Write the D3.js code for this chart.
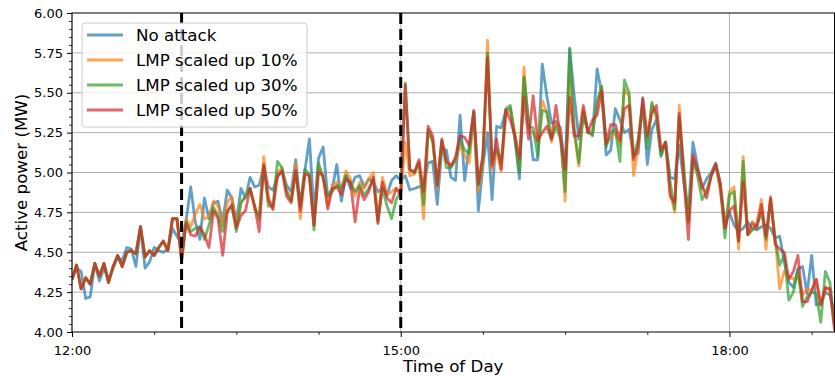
<!DOCTYPE html>
<html>
<head>
<meta charset="utf-8">
<script src="https://cdn.jsdelivr.net/npm/d3@7"></script>
<style>
  html, body { margin: 0; padding: 0; background: #fff; }
  svg { display: block; font-family: "DejaVu Sans", sans-serif; }
</style>
</head>
<body>
<svg id="chart" width="835" height="376"></svg>
<script>
// ---------------- DATA ----------------
// samples every 2.5 minutes starting at 12:00
const startTime = "12:00";
const stepMinutes = 2.5;
const attackStart = "13:00";
const marketChange = "15:00";

const seriesNames = ["No attack", "LMP scaled up 10%", "LMP scaled up 30%", "LMP scaled up 50%"];

// shared values of the attacked cases before the attack starts (12:00 - 13:00)
const attackPre = [4.33, 4.42, 4.27, 4.34, 4.30, 4.43, 4.35, 4.43, 4.31, 4.41,
  4.48, 4.41, 4.50, 4.51, 4.49, 4.66, 4.47, 4.51, 4.48, 4.53,
  4.57, 4.51, 4.71, 4.71, 4.45];

const noAttack = [
  4.33, 4.40, 4.38, 4.21, 4.22, 4.43, 4.32, 4.40, 4.33, 4.40, 4.47, 4.45, 4.53, 4.52, 4.41, 4.66, 4.40, 4.44, 4.53, 4.51, 4.50, 4.52, 4.65, 4.60, 4.55,
  4.70, 4.91, 4.69, 4.58, 4.84, 4.71, 4.81, 4.82, 4.69, 4.89, 4.84, 4.69, 4.90, 4.84, 4.97, 4.91, 4.92, 5.04, 4.91, 4.89, 4.97, 5.01, 4.92, 4.88,
  5.08, 4.79, 5.01, 5.21, 4.75, 5.09, 5.16, 4.85, 4.90, 5.05, 4.82, 4.98, 4.90, 4.97, 4.98, 4.91, 4.96, 4.94, 4.88, 4.90, 4.86, 4.95, 4.98, 4.95,
  4.98, 4.89, 4.90, 4.91, 4.92, 5.06, 5.07, 4.80, 5.15, 5.14, 4.97, 4.95, 5.36, 4.95, 5.17, 5.38, 4.76, 5.04, 5.25, 4.83, 5.29, 5.28, 5.39,
  5.40, 5.21, 4.96, 5.59, 5.33, 5.08, 5.08, 5.68, 5.48, 5.31, 5.32, 5.28, 5.02, 5.78, 5.48, 5.21, 5.34, 5.27, 5.23, 5.65, 5.50, 5.11, 5.14,
  5.40, 5.33, 5.25, 5.27, 5.11, 5.12, 5.46, 5.05, 5.27, 5.33, 5.11, 5.19, 4.97, 4.96, 5.17, 4.94, 4.75, 5.19, 5.04, 4.90, 4.96, 5.00, 5.06, 4.90,
  4.69, 4.75, 4.67, 4.63, 4.65, 4.69, 4.65, 4.64, 4.66, 4.67, 4.65, 4.59, 4.60, 4.44, 4.31, 4.28, 4.40, 4.41, 4.24, 4.48, 4.17, 4.18, 4.25, 4.23, 4.12
];

const lmp10 = attackPre.concat([
  4.71, 4.66, 4.74, 4.80, 4.71, 4.72, 4.82, 4.79, 4.67, 4.81, 4.85, 4.67, 4.81, 4.85, 4.90, 4.77, 4.73, 5.10, 4.85, 4.77, 5.00, 5.03, 4.89, 4.83,
  5.06, 4.71, 5.00, 4.98, 4.67, 5.04, 4.98, 4.79, 4.92, 4.94, 4.90, 5.01, 4.96, 4.85, 4.94, 4.90, 4.96, 5.00, 4.71, 4.97, 4.86, 4.88, 4.90, 4.87,
  5.19, 4.98, 4.99, 5.07, 4.71, 5.25, 5.21, 4.90, 5.19, 5.07, 5.05, 5.07, 5.17, 5.11, 5.06, 5.36, 4.88, 5.07, 5.83, 5.02, 5.13, 5.01, 5.36,
  5.40, 5.25, 5.04, 5.66, 5.27, 5.25, 5.19, 5.45, 5.38, 5.19, 5.31, 5.27, 4.82, 5.65, 5.25, 5.04, 5.40, 5.25, 5.24, 5.44, 5.54, 5.18, 5.22,
  5.25, 5.17, 5.52, 5.48, 4.98, 5.15, 5.42, 5.19, 5.43, 5.35, 5.14, 5.19, 4.88, 4.75, 5.42, 4.98, 4.69, 5.10, 5.00, 4.90, 4.88, 4.98, 5.05, 4.88,
  4.65, 4.88, 4.91, 4.52, 5.10, 4.61, 4.65, 4.69, 4.83, 4.52, 4.85, 4.59, 4.27, 4.38, 4.35, 4.33, 4.35, 4.23, 4.27, 4.26, 4.33, 4.17, 4.27, 4.27, 4.03
]);

const lmp30 = attackPre.concat([
  4.69, 4.63, 4.65, 4.66, 4.58, 4.67, 4.78, 4.73, 4.63, 4.76, 4.79, 4.63, 4.81, 4.85, 4.90, 4.79, 4.71, 5.04, 4.79, 4.79, 5.07, 5.03, 4.88, 4.82,
  5.01, 4.79, 5.02, 4.99, 4.64, 5.06, 4.96, 4.85, 4.88, 4.92, 4.90, 4.98, 4.93, 4.88, 4.92, 4.86, 4.90, 4.96, 4.69, 4.90, 4.79, 4.71, 4.83, 4.88,
  5.56, 5.02, 5.00, 5.06, 4.80, 5.27, 5.19, 4.92, 5.20, 5.03, 5.03, 5.08, 5.21, 5.14, 5.12, 5.38, 4.92, 5.10, 5.75, 5.06, 5.15, 5.06, 5.40,
  5.42, 5.21, 5.00, 5.60, 5.29, 5.28, 5.10, 5.39, 5.38, 5.21, 5.29, 5.21, 4.88, 5.77, 5.27, 5.06, 5.38, 5.25, 5.24, 5.44, 5.54, 5.16, 5.25,
  5.27, 5.07, 5.58, 5.50, 5.10, 5.21, 5.42, 5.15, 5.44, 5.35, 5.10, 5.19, 4.94, 4.77, 5.35, 5.04, 4.69, 5.08, 4.98, 4.83, 4.88, 4.98, 5.05, 4.92,
  4.59, 4.86, 4.88, 4.57, 5.07, 4.61, 4.64, 4.67, 4.75, 4.58, 4.83, 4.58, 4.42, 4.48, 4.20, 4.25, 4.39, 4.16, 4.22, 4.25, 4.24, 4.06, 4.38, 4.31, 4.05
]);

const lmp50 = attackPre.concat([
  4.68, 4.61, 4.60, 4.66, 4.61, 4.53, 4.76, 4.71, 4.48, 4.75, 4.80, 4.65, 4.73, 4.76, 4.90, 4.79, 4.63, 5.05, 4.83, 4.77, 4.98, 5.01, 4.85, 4.81,
  5.01, 4.76, 4.99, 4.98, 4.67, 5.00, 4.98, 4.77, 4.90, 4.91, 4.86, 4.96, 4.94, 4.69, 4.90, 4.83, 4.88, 4.97, 4.68, 4.94, 4.84, 4.81, 4.90, 4.86,
  5.55, 5.02, 5.00, 5.08, 4.88, 5.29, 5.23, 4.92, 5.21, 5.07, 5.04, 5.10, 5.23, 5.22, 5.17, 5.39, 4.93, 5.11, 5.72, 5.04, 5.21, 5.02, 5.39,
  5.33, 5.23, 5.09, 5.47, 5.21, 5.48, 5.20, 5.25, 5.29, 5.21, 5.42, 5.21, 5.02, 5.47, 5.23, 5.23, 5.42, 5.25, 5.33, 5.36, 5.51, 5.18, 5.30,
  5.30, 5.20, 5.40, 5.42, 5.08, 5.17, 5.47, 5.23, 5.37, 5.42, 5.14, 5.19, 4.85, 4.81, 5.37, 4.96, 4.58, 5.11, 5.02, 4.92, 4.84, 4.98, 5.05, 4.94,
  4.65, 4.76, 4.79, 4.57, 4.94, 4.61, 4.69, 4.65, 4.80, 4.60, 4.84, 4.55, 4.52, 4.50, 4.33, 4.38, 4.48, 4.19, 4.19, 4.26, 4.33, 4.17, 4.28, 4.27, 4.01
]);

const yTicks = [4.00, 4.25, 4.50, 4.75, 5.00, 5.25, 5.50, 5.75, 6.00];
const xTickLabels = ["12:00", "15:00", "18:00"];

// ---------------- CHART ----------------
const colors = ["#1f77b4", "#ff7f0e", "#2ca02c", "#d62728"];
const allSeries = [noAttack, lmp10, lmp30, lmp50];

const parseHM = s => { const [h, m] = s.split(":").map(Number); return new Date(2020, 0, 1, h, m, 0); };
const t0 = parseHM(startTime);
const n = noAttack.length;
const times = d3.range(n).map(i => new Date(t0.getTime() + i * stepMinutes * 60000));

const L = 72, R = 834.5, T = 13, B = 332;
const svg = d3.select("#chart");

const x = d3.scaleTime().domain([times[0], times[n - 1]]).range([L, R]);
const y = d3.scaleLinear().domain([4, 6]).range([B, T]);

// grid
const grid = svg.append("g");
grid.selectAll("line.hg").data(yTicks.slice(1, -1)).join("line")
  .attr("x1", L).attr("x2", R).attr("y1", d => y(d)).attr("y2", d => y(d))
  .attr("stroke", "#b0b0b0").attr("stroke-width", 1);
grid.selectAll("line.vg").data(xTickLabels.map(parseHM)).join("line")
  .attr("x1", d => x(d)).attr("x2", d => x(d)).attr("y1", T).attr("y2", B)
  .attr("stroke", "#b0b0b0").attr("stroke-width", 1);

// clip
svg.append("clipPath").attr("id", "clip").append("rect")
  .attr("x", L).attr("y", T).attr("width", R - L).attr("height", B - T);

const line = d3.line().x((d, i) => x(times[i])).y(d => y(d));
const lines = svg.append("g").attr("clip-path", "url(#clip)");
allSeries.forEach((s, k) => {
  lines.append("path").datum(s)
    .attr("d", line)
    .attr("fill", "none")
    .attr("stroke", colors[k])
    .attr("stroke-width", 2.8)
    .attr("stroke-opacity", 0.7)
    .attr("stroke-linejoin", "round");
});

// dashed event lines
svg.append("g").selectAll("line").data([attackStart, marketChange].map(parseHM)).join("line")
  .attr("x1", d => x(d)).attr("x2", d => x(d)).attr("y1", T).attr("y2", B)
  .attr("stroke", "#000").attr("stroke-width", 3).attr("stroke-dasharray", "11,5");

// axes
const fmt = d3.timeFormat("%H:%M");
const xAxis = d3.axisBottom(x).tickValues(xTickLabels.map(parseHM)).tickFormat(fmt)
  .tickSize(5).tickPadding(9);
const gx = svg.append("g").attr("transform", `translate(0,${B})`).call(xAxis);
gx.select(".domain").remove();
gx.selectAll("text").attr("font-size", 13).attr("font-family", "DejaVu Sans").attr("fill", "#000");
gx.selectAll("line").attr("stroke", "#000");

const minorX = times.filter((d, i) => i % 18 === 0 && i % 72 !== 0);
svg.append("g").attr("transform", `translate(0,${B})`)
  .call(d3.axisBottom(x).tickValues(minorX).tickSize(3).tickFormat(""))
  .call(g => g.select(".domain").remove())
  .selectAll("line").attr("stroke", "#000").attr("stroke-width", 0.8);

const yAxis = d3.axisLeft(y).tickValues(yTicks).tickFormat(d3.format(".2f")).tickSize(5).tickPadding(4);
const gy = svg.append("g").attr("transform", `translate(${L},0)`).call(yAxis);
gy.select(".domain").remove();
gy.selectAll("text").attr("font-size", 13).attr("font-family", "DejaVu Sans").attr("fill", "#000");
gy.selectAll("line").attr("stroke", "#000");

const minorY = d3.range(0, 41).map(i => 4 + i * 0.05).filter((d, i) => i % 5 !== 0);
svg.append("g").attr("transform", `translate(${L},0)`)
  .call(d3.axisLeft(y).tickValues(minorY).tickSize(3).tickFormat(""))
  .call(g => g.select(".domain").remove())
  .selectAll("line").attr("stroke", "#000").attr("stroke-width", 0.8);

// spines
svg.append("rect").attr("x", L).attr("y", T).attr("width", R - L).attr("height", B - T)
  .attr("fill", "none").attr("stroke", "#000").attr("stroke-width", 1);

// axis labels
svg.append("text").attr("x", (L + R) / 2).attr("y", 372).attr("text-anchor", "middle")
  .attr("font-size", 16.7).text("Time of Day");
svg.append("text").attr("transform", `translate(27,${(T + B) / 2}) rotate(-90)`)
  .attr("text-anchor", "middle").attr("font-size", 16.7).text("Active power (MW)");

// legend
const lg = svg.append("g");
lg.append("rect").attr("x", 82).attr("y", 23).attr("width", 225).attr("height", 104)
  .attr("rx", 3).attr("fill", "#fff").attr("fill-opacity", 0.8)
  .attr("stroke", "#cccccc").attr("stroke-width", 1);
seriesNames.forEach((name, k) => {
  const yy = 35 + k * 25;
  lg.append("line").attr("x1", 87).attr("x2", 123).attr("y1", yy).attr("y2", yy)
    .attr("stroke", colors[k]).attr("stroke-width", 2.8).attr("stroke-opacity", 0.7);
  lg.append("text").attr("x", 136).attr("y", yy + 6).attr("font-size", 16.7).text(name);
});
</script>
</body>
</html>
